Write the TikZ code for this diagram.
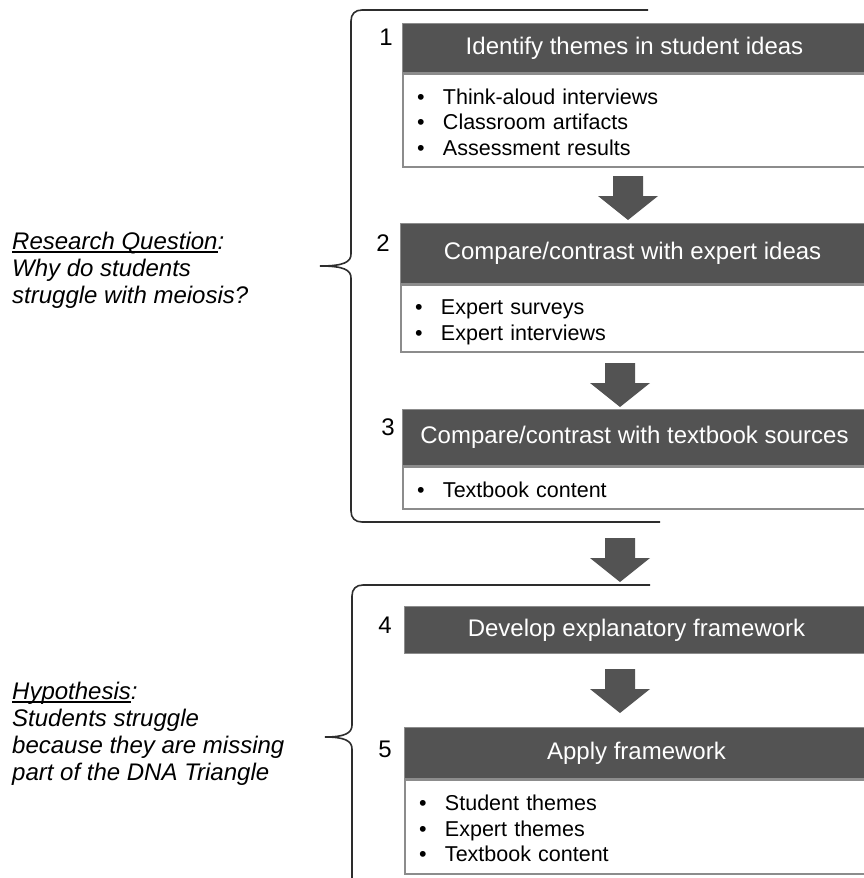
\documentclass[tikz,border=0pt]{standalone}
\usepackage{fontspec}
\setmainfont{Liberation Sans}
\usepackage{tikz}
\usetikzlibrary{calc, positioning}

\definecolor{boxgray}{RGB}{83,83,83}
\definecolor{rimgray}{RGB}{140,140,140}
\definecolor{inkgray}{RGB}{45,45,45}

\newcommand{\itm}[1]{\makebox[26pt][l]{\textbullet}#1}
\newcommand{\uln}[1]{\setbox0\hbox{#1}\rlap{\rule[-3pt]{\wd0}{1.4pt}}\box0}

\begin{document}
\begin{tikzpicture}[x=1pt, y=-1pt,
	head/.style={fill=boxgray, draw=rimgray, line width=1pt, text=white, anchor=north west,
		minimum width=464, minimum height=#1, inner sep=0pt, font=\fontsize{24}{28}\selectfont},
	body/.style={fill=white, draw=rimgray, line width=2pt, anchor=north west, align=left,
		text width=436, minimum height=#1, inner xsep=14pt, inner ysep=0pt,
		font=\fontsize{21.5}{25.5}\selectfont,
		execute at begin node=\rule{0pt}{26pt}, execute at end node=\strut},
	num/.style={font=\fontsize{24}{28}\selectfont, inner sep=0pt},
	note/.style={anchor=north west, align=left, inner sep=0pt, font=\fontsize{24}{27}\selectfont\itshape},
	brace line/.style={draw=inkgray, line width=1.6pt},
	pics/fatarrow/.style={code={
		\fill[boxgray] (-15,0) -- (15,0) -- (15,20) -- (30,20) -- (0,44) -- (-30,20) -- (-15,20) -- cycle;
	}}]
	
	\useasboundingbox (0,0) rectangle (863,878);
	
	% === RESEARCH QUESTION ===
	\draw[brace line] (648,10) -- (362,10) .. controls (355,10) and (351,14) .. (351,21)
		-- (351,254) .. controls (351,262) and (344,266) .. (320,266)
		.. controls (344,266) and (351,270) .. (351,278)
		-- (351,511) .. controls (351,518) and (355,522) .. (362,522) -- (660,522);
	\node[note] (question) at (12,232) {\uln{Research Question}:\\Why do students\\struggle with meiosis?};
	
	\node[head=49] (h1) at (402,23) {Identify themes in student ideas};
	\node[body=93] (b1) at (h1.south west) {\itm{Think-aloud interviews}\\\itm{Classroom artifacts}\\\itm{Assessment results}};
	\node[num] (n1) at (386,37) {1};
	\pic at ($(b1.south west)+(226,8)$) {fatarrow};
	
	\node[head=60] (h2) at (400,223) {Compare/contrast with expert ideas};
	\node[body=67] (b2) at (h2.south west) {\itm{Expert surveys}\\\itm{Expert interviews}};
	\node[num] (n2) at (383,243) {2};
	\pic at ($(b2.south west)+(220,10)$) {fatarrow};
	
	\node[head=56] (h3) at (402,409) {Compare/contrast with textbook sources};
	\node[body=42] (b3) at (h3.south west) {\itm{Textbook content}};
	\node[num] (n3) at (388,427) {3};
	
	\pic at ($(b3.south west)+(218,28)$) {fatarrow};
	
	% === HYPOTHESIS ===
	\draw[brace line] (650,585) -- (363,585) .. controls (356,585) and (352,589) .. (352,596)
		-- (352,725) .. controls (352,733) and (345,737) .. (325,737)
		.. controls (345,737) and (352,741) .. (352,749) -- (352,885);
	\node[note] (hypo) at (12,682) {\uln{Hypothesis}:\\Students struggle\\because they are missing\\part of the DNA Triangle};
	
	\node[head=47] (h4) at (404,606) {Develop explanatory framework};
	\node[num] (n4) at (385,625) {4};
	\pic at ($(h4.south west)+(216,15)$) {fatarrow};
	
	\node[head=51] (h5) at (404,727) {Apply framework};
	\node[body=94] (b5) at (h5.south west) {\itm{Student themes}\\\itm{Expert themes}\\\itm{Textbook content}};
	\node[num] (n5) at (385,749) {5};
	
\end{tikzpicture}
\end{document}
